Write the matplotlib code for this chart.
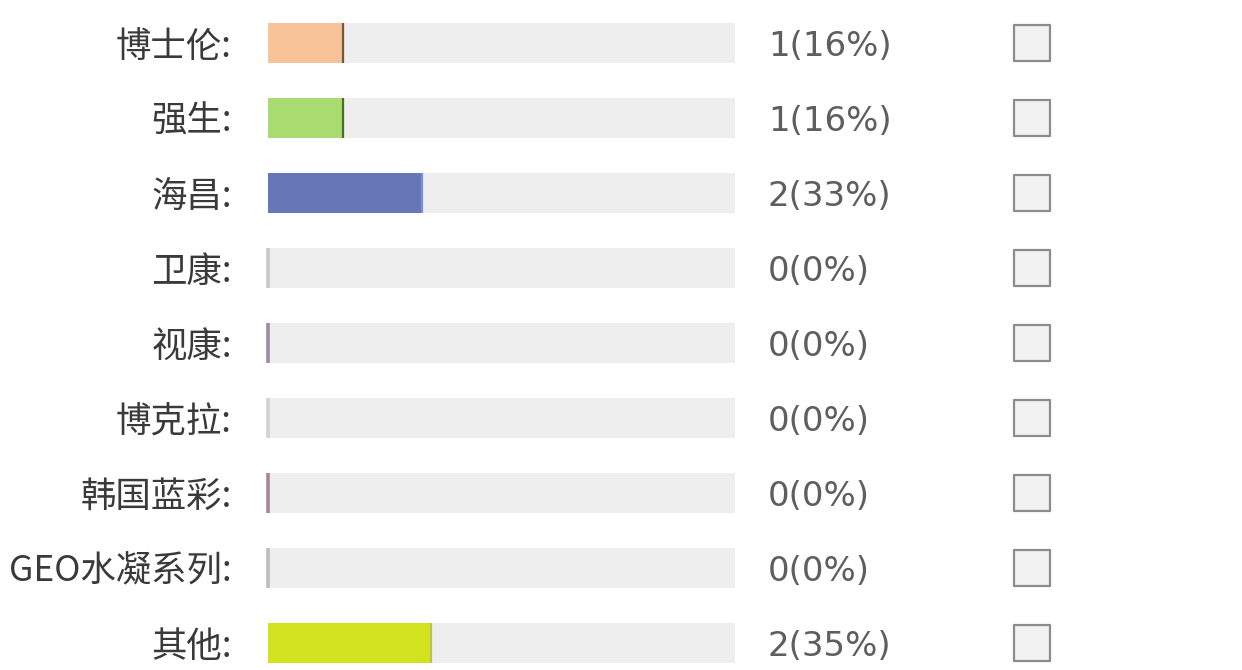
import matplotlib
matplotlib.use("Agg")
import matplotlib.pyplot as plt

plt.rcParams['font.family'] = ['Noto Sans CJK SC', 'DejaVu Sans']

categories = ["博士伦:", "强生:", "海昌:", "卫康:", "视康:", "博克拉:", "韩国蓝彩:", "GEO水凝系列:", "其他:"]
counts = [1, 1, 2, 0, 0, 0, 0, 0, 2]
percents = [16, 16, 33, 0, 0, 0, 0, 0, 35]
value_labels = ["1(16%)", "1(16%)", "2(33%)", "0(0%)", "0(0%)", "0(0%)", "0(0%)", "0(0%)", "2(35%)"]
colors = ["#F8C399", "#A8DC70", "#6676B6", "#C8C8C8", "#9C8AA6", "#D2D2D2", "#A88494", "#BDBDBD", "#D3E21E"]
edge_colors = ["#6E5A3C", "#4E6A30", "#8090C0", "#B0B0B0", "#7A6A88", "#C0C0C0", "#8A6878", "#A8A8A8", "#B8C060"]

W, H = 1242, 670
fig = plt.figure(figsize=(W / 100, H / 100), dpi=100)
ax = fig.add_axes([0, 0, 1, 1])

# pixel mapping: track from x=268 to x=735 represents 0..100 %
px_per_unit = (735 - 268) / 100.0
ax.set_xlim(-268 / px_per_unit, (W - 268) / px_per_unit)
# rows centred at 43 + 75*i pixels
ax.set_ylim((H - 43) / 75.0, -43 / 75.0)
ax.axis("off")

rows = list(range(len(categories)))
bar_h = 0.54

# grey track
ax.barh(rows, [100] * len(rows), height=bar_h, left=0, color="#EEEEEE", edgecolor="none", zorder=1)
# value bars
ax.barh(rows, percents, height=bar_h, left=0, color=colors, edgecolor="none", zorder=2)
# right edge line of every bar (the only visible mark for zero values)
for r, p, ec, c in zip(rows, percents, edge_colors, colors):
    ax.vlines(p, r - bar_h / 2, r + bar_h / 2, color=ec if p > 0 else c, lw=2.6 if p == 0 else 1.6, zorder=3)

label_x = (232 - 268) / px_per_unit
value_x = (768 - 268) / px_per_unit
box_x = (1032 - 268) / px_per_unit
dy = 0.05

for r, cat, vl in zip(rows, categories, value_labels):
    ax.text(label_x, r + dy, cat, ha="right", va="center", fontsize=25.5, color="#3A3A3A",
            family=['Noto Sans CJK SC', 'DejaVu Sans'])
    ax.text(value_x, r + dy, vl, ha="left", va="center", fontsize=24.5, color="#5E5E5E",
            family=['DejaVu Sans'])

ax.scatter([box_x] * len(rows), rows, marker="s", s=650, facecolor="#F2F2F2",
           edgecolor="#8C8C8C", linewidths=1.6, zorder=3)

fig.savefig("out.png", dpi=100, facecolor="white")
